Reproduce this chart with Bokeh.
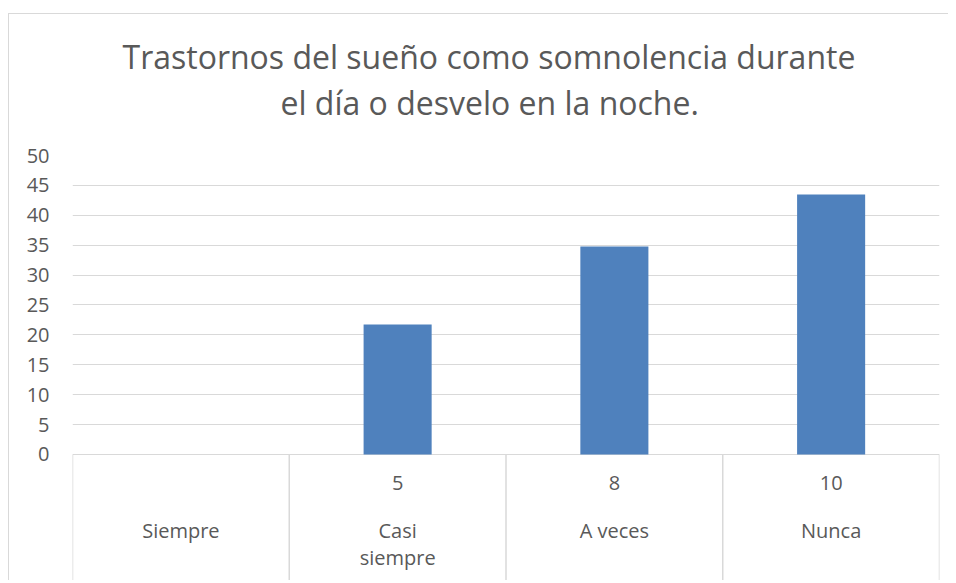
from bokeh.plotting import figure
from bokeh.models import Range1d, FixedTicker, Title
from bokeh.core.properties import value
from bokeh.embed import file_html
from bokeh.resources import INLINE

# ---- data ----
title_lines = ["Trastornos del sueño como somnolencia durante",
               "el día o desvelo en la noche."]
categories = ["Siempre", "Casi\nsiempre", "A veces", "Nunca"]
counts = ["", "5", "8", "10"]
percent = [0, 21.74, 34.78, 43.48]
y_ticks = [0, 5, 10, 15, 20, 25, 30, 35, 40, 45, 50]

# ---- layout helpers ----
n = len(categories)
x_pos = [i + 0.5 for i in range(n)]
bounds = list(range(n + 1))
y_bottom = -21.24

FONT = "Open Sans"
TXT = "#595959"
GRID = "#d9d9d9"

p = figure(width=940, height=567, output_backend="svg", toolbar_location=None,
           x_range=Range1d(0, n), y_range=Range1d(y_bottom, 50),
           min_border_left=63, min_border_right=10, min_border_top=141,
           min_border_bottom=0, title=None)
p.margin = (13, 0, 0, 8)
p.styles = {"border-left": "1px solid #d9d9d9", "border-top": "1px solid #d9d9d9"}
p.outline_line_color = None
p.background_fill_color = "white"
p.border_fill_color = "white"

# titles: spacer closest to the plot, then line 2, then line 1
p.add_layout(Title(text=" ", text_font=FONT, text_font_size="10px",
                   standoff=15), "above")
p.add_layout(Title(text=title_lines[1], align="left", offset=208,
                   text_font=FONT, text_font_size="32px",
                   text_font_style="normal", text_color=TXT, standoff=2),
             "above")
p.add_layout(Title(text=title_lines[0], align="left", offset=50,
                   text_font=FONT, text_font_size="32px",
                   text_font_style="normal", text_color=TXT, standoff=0),
             "above")

# grid
p.xgrid.visible = False
p.ygrid.ticker = FixedTicker(ticks=y_ticks)
p.ygrid.grid_line_color = GRID
p.ygrid.grid_line_width = 1

# axes
p.xaxis.visible = False
ya = p.yaxis[0]
ya.ticker = FixedTicker(ticks=y_ticks)
ya.axis_line_color = None
ya.major_tick_line_color = None
ya.minor_tick_line_color = None
ya.major_tick_out = 0
ya.major_tick_in = 0
ya.minor_tick_out = 0
ya.major_label_text_font = FONT
ya.major_label_text_font_size = "20px"
ya.major_label_text_color = TXT
ya.major_label_standoff = 23

# bars
p.vbar(x=x_pos, top=percent, bottom=0, width=0.314, fill_color="#4F81BD",
       line_color=None)

# category table below the axis
p.segment(x0=bounds, y0=[0] * len(bounds), x1=bounds,
          y1=[y_bottom] * len(bounds), line_color=GRID, line_width=1.5)
p.text(x=x_pos, y=[-4.85] * n, text=counts, text_font=value(FONT),
       text_font_size="20px", text_color=TXT, text_align="center",
       text_baseline="middle")
p.text(x=x_pos, y=[-10.4] * n, text=categories, text_font=value(FONT),
       text_font_size="20px", text_color=TXT, text_align="center",
       text_baseline="top", text_line_height=1.03)

open("out.html", "w").write(file_html(p, INLINE))
